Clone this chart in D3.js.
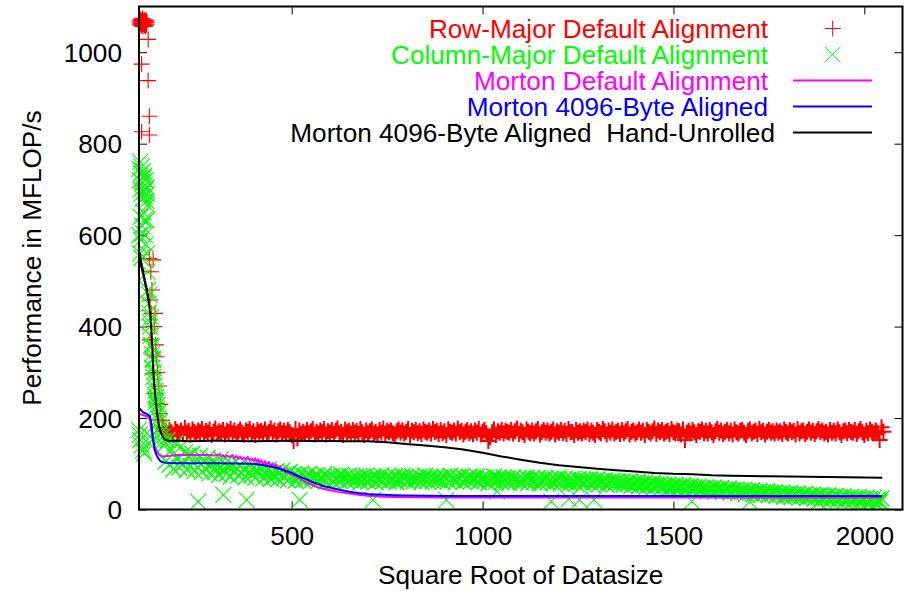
<!DOCTYPE html>
<html><head><meta charset="utf-8">
<script src="https://cdn.jsdelivr.net/npm/d3@7"></script>
<style>
body{margin:0;background:#fff;}
svg text{font-family:"Liberation Sans",Arial,Helvetica,sans-serif;}
</style></head><body>
<svg id="chart" width="905" height="591"></svg>
<script>
// ---------------- DATA ----------------
const xTicks = [500, 1000, 1500, 2000];
const yTicks = [0, 200, 400, 600, 800, 1000];
const seriesNames = [
  "Row-Major Default Alignment",
  "Column-Major Default Alignment",
  "Morton Default Alignment",
  "Morton 4096-Byte Aligned",
  "Morton 4096-Byte Aligned  Hand-Unrolled"
];

// Row-Major (red +): irregular early points
const rowEarlyX = [101,102,103,104,105,106,107,108,109,110,111,112,113,114,115,116,117,118,119,120,121,
  124,107,124,127,107,127,
  127,137,129,133,142,129,137,146,137,142,146,155,150,163,131,134,140,144,148,152,156,160,165];
const rowEarlyY = [1066,1060,1070,1063,1072,1058,1068,1062,1074,1056,1067,1061,1071,1059,1065,1069,1057,1064,1070,1060,1066,
  1028,974,938,860,826,819,
  549,546,458,429,429,371,338,334,298,254,232,210,196,181,520,480,400,360,300,270,230,195,178];
// Row-Major band, sizes 170..2050 every 5
const rowBandX = d3.range(170, 2051, 5);
const rowBandY = [
171,166,174,169,163,176,170,167,173,165,178,168,172,164,175,170,166,173,169,176,
165,172,168,175,163,170,177,166,171,168,174,164,172,169,176,167,173,165,170,175,
168,164,173,170,176,166,171,163,174,169,172,167,175,165,170,177,168,173,164,171,
175,167,172,166,174,169,163,150,176,155,173,165,170,166,174,167,171,176,164,170,
166,173,169,176,164,171,168,174,165,172,177,167,170,163,175,169,172,166,174,168,
172,165,176,169,163,173,167,171,175,166,170,164,174,168,177,165,172,169,173,167,
164,171,175,168,173,166,170,176,163,172,169,174,167,171,165,175,170,168,173,166,
176,169,172,165,174,167,171,163,175,170,168,173,166,177,169,172,164,170,174,167,
171,165,173,168,176,164,170,174,167,150,158,169,175,163,171,168,174,166,172,170,
168,174,166,171,177,165,172,169,163,175,170,167,173,166,171,176,164,169,174,168,
173,166,170,175,164,171,168,174,167,172,165,176,169,170,163,174,168,171,166,173,
169,175,165,172,168,163,174,170,167,176,171,164,173,168,175,166,170,172,165,174,
167,171,176,164,170,173,166,169,175,168,172,163,174,170,166,171,177,165,173,169,
174,166,170,172,165,176,169,167,173,171,164,175,152,168,172,166,174,169,163,171,
170,175,167,172,166,174,169,163,171,176,168,173,165,170,174,167,172,164,175,169,
166,172,174,168,163,171,175,167,170,173,165,176,169,172,164,170,174,168,171,166,
173,168,171,165,175,170,166,174,169,172,164,176,167,171,173,165,170,175,168,172,
165,171,176,169,173,167,170,164,174,168,172,166,175,169,163,171,173,167,174,170,
168,174,165,171,176,169,163,172,167,175,170,166,173,168,152,180,170];

// Column-Major (green x): irregular early points and low outliers
const colEarlyX = [101,102,103,104,105,106,107,108,109,110,111,112,113,114,115,116,117,118,119,120,121,122,
  101,103,104,105,106,108,110,112,114,116,118,120,121,123,124,125,126,127,128,129,130,131,132,133,134,135,136,137,138,139,140,141,142,143,144,145,146,147,148,150,152,155,158,160,162,164,
  100,102,103,107,111,114,120,125,130,
  255,321,382,521,713,905,1038,1180,1226,1254,1292,1548,1700,1880,2040];
const colEarlyY = [745,720,760,700,735,690,750,715,680,740,705,725,695,730,710,685,720,700,675,705,690,665,
  600,560,640,589,550,620,604,650,633,600,580,633,560,520,480,450,430,470,410,400,380,420,360,356,340,310,330,327,290,300,270,280,250,260,235,245,239,220,228,210,200,192,180,170,160,150,
  174,163,152,140,130,123,167,145,160,
  17,32,21,21,21,21,39,18,23,21,21,18,17,17,15];
// Column-Major band, sizes 165..2045 every 5
const colBandX = d3.range(165, 2046, 5);
const colBandY = [
140,105,152,98,130,88,145,110,92,138,100,125,87,118,95,122,84,108,92,117,
82,105,90,113,79,98,108,83,95,76,110,88,100,78,93,72,98,84,90,74,
95,80,88,71,97,83,76,90,70,85,78,88,68,82,74,87,67,80,72,84,
66,80,85,70,76,64,82,72,77,63,75,68,78,64,73,66,77,62,71,67,
75,62,70,66,77,61,72,68,74,60,69,73,63,76,67,71,61,74,65,70,
62,73,67,60,72,65,74,61,69,66,73,60,71,64,74,62,68,72,61,70,
65,73,60,69,63,74,66,71,61,68,73,62,70,65,72,60,67,74,63,69,
71,61,66,73,64,70,60,72,67,62,74,65,69,61,71,66,73,60,68,64,
72,62,69,65,73,60,67,71,63,70,58,68,64,72,61,69,66,59,70,63,
68,58,66,70,61,65,69,59,67,63,70,58,64,68,60,66,69,57,65,62,
69,59,64,67,58,66,61,69,57,63,68,60,65,58,67,62,56,66,60,64,
57,65,61,67,56,63,59,66,55,62,60,64,54,61,58,63,55,60,62,56,
61,54,59,57,62,52,58,55,60,51,57,54,59,50,56,53,58,49,55,52,
56,48,53,51,55,46,52,49,54,45,51,48,53,44,50,47,52,43,49,46,
50,42,47,45,49,40,46,43,48,39,45,42,47,38,44,41,46,37,43,40,
44,36,41,39,43,34,40,37,42,33,39,36,41,32,38,35,40,31,37,34,
38,30,35,33,37,28,34,31,36,27,33,30,35,26,32,29,34,25,31,28,
33,24,30,27,32,22,29,25,31,21,28,24,30,20,27,23,29,19,26,22,
28,19,25,22,27,17,24,20,26,16,23,19,25,15,22,18,24];

// Morton Default Alignment (magenta line)
const mortonX = [100,104,108,112,116,120,125,127,129,131,133,135,137,140,142,145,148,151,155,160,165,175,200,225,250,275,300,310,315,320,325,330,338,345,350,355,360,365,370,375,380,385,390,395,400,405,408,412,416,420,425,430,435,440,445,450,455,460,465,470,475,480,485,490,495,500,505,510,515,521,530,545,555,564,580,600,625,652,675,700,720,740,770,800,900,1000,1200,1500,1800,2046];
const mortonY = [210,208,207,206,205,204,202,199,195,182,167,158,150,142,137,131,126,122,119,117,116,117,119,119,120,119,118,121,116,119,114,118,115,119,112,117,111,116,110,114,109,115,107,112,106,111,104,110,102,108,100,106,98,104,95,101,92,98,89,94,85,90,80,85,77,80,74,76,70,69,63,57,53,50,46,42,38,35,32,30,29,28,27.5,27,26.5,26.5,26,26,26,26];

// Morton 4096-Byte Aligned (blue line)
const alignedX = [100,103,106,110,115,120,124,127,129,131,133,135,137,139,141,144,146,149,152,156,159,165,170,200,250,300,350,390,410,430,450,465,478,490,500,510,521,533,545,555,565,580,600,625,652,675,700,720,740,770,800,850,914,1000,1200,1500,1800,2046];
const alignedY = [221,220,217,213,211,209,207,205,203,195,185,168,152,140,130,123,119,114,110,106,104.5,103,102,101,101,101,100.5,100,99,96,93,90,86,83,80,76,72,68,64,60,57,52,48,43,39,36,34,33,32,31,30.5,30,29.5,29.5,29.5,29.5,29.5,29.5];

// Morton 4096-Byte Aligned Hand-Unrolled (black line)
const unrolledX = [101,102,103,104,105,106,107,108,109,110,111,112,113,114,115,116,117,118,119,120,121,122,123,124,125,126,127,128,129,130,131,132,133,134,135,136,137,138,139,140,141,142,144,146,148,150,152,154,156,158,160,163,166,170,180,200,230,260,300,350,400,450,500,550,600,650,700,750,800,850,900,950,1000,1050,1100,1150,1200,1250,1300,1350,1400,1450,1500,1550,1600,1650,1700,1750,1800,1850,1900,1950,2000,2047];
const unrolledY = [556,548,560,540,545,530,538,522,528,515,524,508,512,500,505,492,497,486,490,478,482,468,470,458,462,448,445,436,430,420,405,398,386,365,350,330,312,298,285,272,262,255,238,222,205,195,186,178,172,167,163,158,154,152,150,151,149,150,151,150,149,150,151,150,150,149,149,147,143,140,136,131,124,116,109,102,97,93,89,86,83,80,78,77,75,74,73,72.5,72,71.5,71,70.5,70,69.5];

// ---------------- CHART ----------------
const colors = ["#ff0000", "#00ff00", "#ff00ff", "#0000ff", "#000000"];
const FONT = "26.2px";
const svg = d3.select("#chart");
svg.append("rect").attr("width", 905).attr("height", 591).attr("fill", "#fff");

const x = d3.scaleLinear().domain([100, 2100]).range([139, 902.5]);
const y = d3.scaleLinear().domain([0, 1100]).range([509.5, 6.5]);
const zip = (a, b) => a.slice(0, Math.min(a.length, b.length)).map((v, i) => [v, b[i]]);

// axes (ticks inward on all four sides)
const gB = svg.append("g").attr("transform", `translate(0,${y(0)})`)
  .call(d3.axisBottom(x).tickValues(xTicks).tickSize(-8).tickFormat(d3.format("d")));
gB.selectAll("text").attr("y", 35).attr("dy", 0).style("font-size", FONT).attr("fill", "#000");
const gT = svg.append("g").attr("transform", `translate(0,${y(1100)})`)
  .call(d3.axisTop(x).tickValues(xTicks).tickSize(-8).tickFormat(""));
const gL = svg.append("g").attr("transform", `translate(${x(100)},0)`)
  .call(d3.axisLeft(y).tickValues(yTicks).tickSize(-8).tickFormat(d3.format("d")));
gL.selectAll("text").attr("x", -17).attr("dy", 9).style("font-size", FONT).attr("fill", "#000");
const gR = svg.append("g").attr("transform", `translate(${x(2100)},0)`)
  .call(d3.axisRight(y).tickValues(yTicks).tickSize(-8).tickFormat(""));
[gB, gT, gL, gR].forEach(g => {
  g.select(".domain").remove();
  g.selectAll(".tick line").attr("stroke", "#000").attr("stroke-width", 1);
});

// axis titles
svg.append("text").attr("x", (x(100) + x(2100)) / 2).attr("y", 584)
  .attr("text-anchor", "middle").style("font-size", FONT).text("Square Root of Datasize");
svg.append("text").attr("transform", `translate(41,${(y(0) + y(1100)) / 2}) rotate(-90)`)
  .attr("text-anchor", "middle").style("font-size", FONT).text("Performance in MFLOP/s");

// markers
const plusPath = pts => pts.map(([a, b]) => {
  const px = x(a), py = y(b);
  return `M${px - 8},${py}H${px + 8}M${px},${py - 8}V${py + 8}`;
}).join("");
const crossPath = pts => pts.map(([a, b]) => {
  const px = x(a), py = y(b);
  return `M${px - 8},${py - 8}L${px + 8},${py + 8}M${px - 8},${py + 8}L${px + 8},${py - 8}`;
}).join("");

svg.append("path").attr("d", plusPath(zip(rowEarlyX, rowEarlyY))).attr("stroke", colors[0]).attr("stroke-width", 1.1).attr("fill", "none");
svg.append("path").attr("d", plusPath(zip(rowBandX, rowBandY))).attr("stroke", colors[0]).attr("stroke-width", 2).attr("fill", "none");
svg.append("path").attr("d", crossPath(zip(colEarlyX, colEarlyY))).attr("stroke", colors[1]).attr("stroke-width", 1.1).attr("fill", "none");
svg.append("path").attr("d", crossPath(zip(colBandX, colBandY))).attr("stroke", colors[1]).attr("stroke-width", 1.3).attr("fill", "none");

const line = d3.line().x(d => x(d[0])).y(d => y(d[1]));
[[mortonX, mortonY, 2], [alignedX, alignedY, 3], [unrolledX, unrolledY, 4]].forEach(([xs, ys, ci]) => {
  svg.append("path").datum(zip(xs, ys)).attr("d", line)
    .attr("fill", "none").attr("stroke", colors[ci]).attr("stroke-width", 2)
    .attr("stroke-linejoin", "round");
});

// border
svg.append("rect").attr("x", x(100)).attr("y", y(1100))
  .attr("width", x(2100) - x(100)).attr("height", y(0) - y(1100))
  .attr("fill", "none").attr("stroke", "#000").attr("stroke-width", 2);

// legend
const legend = svg.append("g");
seriesNames.forEach((name, i) => {
  const ry = 28.5 + i * 26;
  legend.append("text").attr("x", i === 4 ? 775 : 768).attr("y", ry + 9)
    .attr("text-anchor", "end").style("font-size", FONT).style("white-space", "pre")
    .attr("fill", colors[i]).text(name);
  const sx = 832.7;
  if (i === 0) {
    legend.append("path").attr("d", `M${sx - 8},${ry}H${sx + 8}M${sx},${ry - 8}V${ry + 8}`)
      .attr("stroke", colors[i]).attr("stroke-width", 1);
  } else if (i === 1) {
    legend.append("path").attr("d", `M${sx - 8},${ry - 8}L${sx + 8},${ry + 8}M${sx - 8},${ry + 8}L${sx + 8},${ry - 8}`)
      .attr("stroke", colors[i]).attr("stroke-width", 1);
  } else {
    legend.append("line").attr("x1", 793).attr("x2", 872).attr("y1", ry).attr("y2", ry)
      .attr("stroke", colors[i]).attr("stroke-width", 2);
  }
});
</script></body></html>
